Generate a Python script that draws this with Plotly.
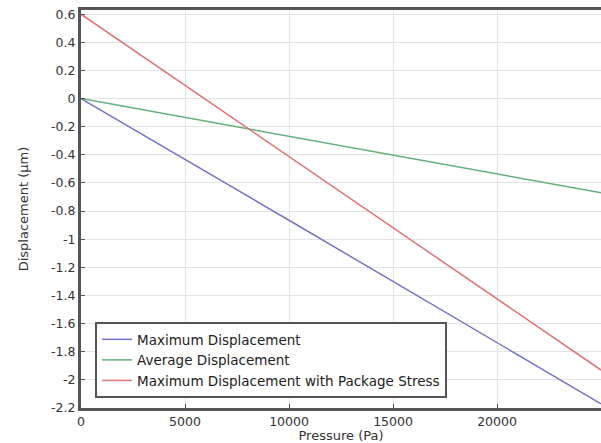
import plotly.graph_objects as go

pressure = [0, 5000, 10000, 15000, 20000, 25000]
max_disp = [0, -0.43, -0.865, -1.30, -1.735, -2.17]
avg_disp = [0, -0.134, -0.268, -0.402, -0.536, -0.67]
max_pkg = [0.6, 0.094, -0.412, -0.918, -1.424, -1.93]

y_ticks = [0.6, 0.4, 0.2, 0, -0.2, -0.4, -0.6, -0.8, -1, -1.2, -1.4, -1.6, -1.8, -2, -2.2]
y_labels = ["0.6", "0.4", "0.2", "0", "-0.2", "-0.4", "-0.6", "-0.8", "-1", "-1.2", "-1.4", "-1.6", "-1.8", "-2", "-2.2"]
x_ticks = [0, 5000, 10000, 15000, 20000]
x_labels = ["0", "5000", "10000", "15000", "20000"]

fig = go.Figure()
fig.add_trace(go.Scatter(x=pressure, y=max_disp, mode="lines", name="Maximum Displacement",
                         line=dict(color="#7474cc", width=1.5)))
fig.add_trace(go.Scatter(x=pressure, y=avg_disp, mode="lines", name="Average Displacement",
                         line=dict(color="#62b07a", width=1.5)))
fig.add_trace(go.Scatter(x=pressure, y=max_pkg, mode="lines", name="Maximum Displacement with Package Stress",
                         line=dict(color="#e07474", width=1.5)))

fig.update_layout(
    width=601, height=443,
    margin=dict(l=81, r=0, t=10, b=35),
    paper_bgcolor="white", plot_bgcolor="white",
    font=dict(family="DejaVu Sans", size=12, color="#333333"),
    showlegend=True,
    legend=dict(x=0.027, y=0.025, xanchor="left", yanchor="bottom",
                bordercolor="#555555", borderwidth=2, bgcolor="white",
                font=dict(size=13.5, color="#222222"), tracegroupgap=2),
    xaxis=dict(range=[0, 25000], tickvals=x_ticks, ticktext=x_labels,
               showgrid=True, gridcolor="#e4e4e4", gridwidth=1,
               showline=True, linecolor="#555555", linewidth=3, mirror=True,
               ticks="inside", ticklen=4, tickcolor="#555555",
               tickfont=dict(size=12.5),
               zeroline=False,
               title=dict(text="Pressure (Pa)", standoff=0, font=dict(size=13))),
    yaxis=dict(range=[-2.2, 0.63], tickvals=y_ticks, ticktext=y_labels,
               showgrid=True, gridcolor="#e4e4e4", gridwidth=1,
               showline=True, linecolor="#555555", linewidth=3, mirror=False,
               ticks="inside", ticklen=4, tickcolor="#555555",
               tickfont=dict(size=12.5),
               zeroline=False,
               title=dict(text="Displacement (µm)", standoff=20, font=dict(size=13))),
)

fig.write_html("out.html")
